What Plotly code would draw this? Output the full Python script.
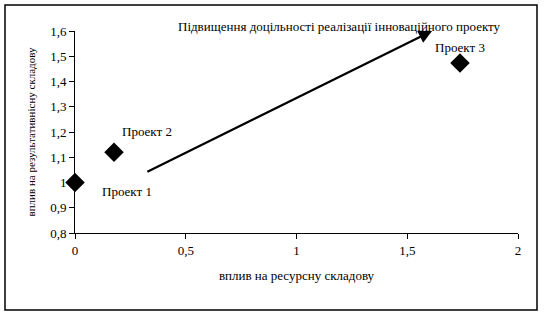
import plotly.graph_objects as go

projects = ["Проект 1", "Проект 2", "Проект 3"]
x_vals = [0.0, 0.176, 1.738]
y_vals = [1.0, 1.12, 1.473]

arrow_start = (0.32, 1.04)
arrow_end = (1.612, 1.6)
arrow_label = "Підвищення доцільності реалізації інноваційного проекту"

x_ticks = [0, 0.5, 1, 1.5, 2]
x_ticktext = ["0", "0,5", "1", "1,5", "2"]
y_ticks = [0.8, 0.9, 1.0, 1.1, 1.2, 1.3, 1.4, 1.5, 1.6]
y_ticktext = ["0,8", "0,9", "1", "1,1", "1,2", "1,3", "1,4", "1,5", "1,6"]

x_title = "вплив на ресурсну складову"
y_title = "вплив на результативнісну складову"

FONT = "Liberation Serif, Times New Roman, serif"

fig = go.Figure()
fig.add_trace(go.Scatter(
    x=x_vals, y=y_vals, mode="markers",
    marker=dict(symbol="diamond", size=15, color="black"),
    cliponaxis=False, showlegend=False, hoverinfo="skip"))

# project label pixel shifts (x right, y up)
label_shifts = [(52, -9), (33, 21), (0, 16)]
for name, xv, yv, (dx, dy) in zip(projects, x_vals, y_vals, label_shifts):
    fig.add_annotation(x=xv, y=yv, text=name, showarrow=False,
                       xshift=dx, yshift=dy,
                       font=dict(family=FONT, size=13, color="black"))

fig.add_annotation(x=arrow_end[0], y=arrow_end[1], ax=arrow_start[0], ay=arrow_start[1],
                   xref="x", yref="y", axref="x", ayref="y",
                   showarrow=True, arrowhead=2, arrowsize=1.2, arrowwidth=2.2,
                   arrowcolor="black", text="")
fig.add_annotation(xref="paper", yref="paper", x=(339 - 75) / 443, y=(233 - 17) / 202,
                   text=arrow_label, showarrow=False,
                   font=dict(family=FONT, size=13, color="black"))

fig.update_layout(
    width=544, height=315,
    margin=dict(l=75, r=26, t=31, b=82),
    paper_bgcolor="white", plot_bgcolor="white",
    font=dict(family=FONT, size=13, color="black"),
    xaxis=dict(range=[0, 2], tickvals=x_ticks, ticktext=x_ticktext,
               showgrid=False, zeroline=False, showline=True, linecolor="black", linewidth=1,
               ticks="outside", ticklen=5, tickcolor="black",
               title=dict(text=x_title, standoff=14, font=dict(family=FONT, size=13))),
    yaxis=dict(range=[0.8, 1.6], tickvals=y_ticks, ticktext=y_ticktext,
               showgrid=False, zeroline=False, showline=True, linecolor="black", linewidth=1,
               ticks="outside", ticklen=5, tickcolor="black",
               title=dict(text=y_title, standoff=12, font=dict(family=FONT, size=11))),
)

fig.add_shape(type="rect", xref="paper", yref="paper",
              x0=(5 - 75) / 443, x1=(537 - 75) / 443,
              y0=(233 - 310) / 202, y1=(233 - 5) / 202,
              line=dict(color="black", width=1.5), fillcolor="rgba(0,0,0,0)")

fig.write_html("out.html")
